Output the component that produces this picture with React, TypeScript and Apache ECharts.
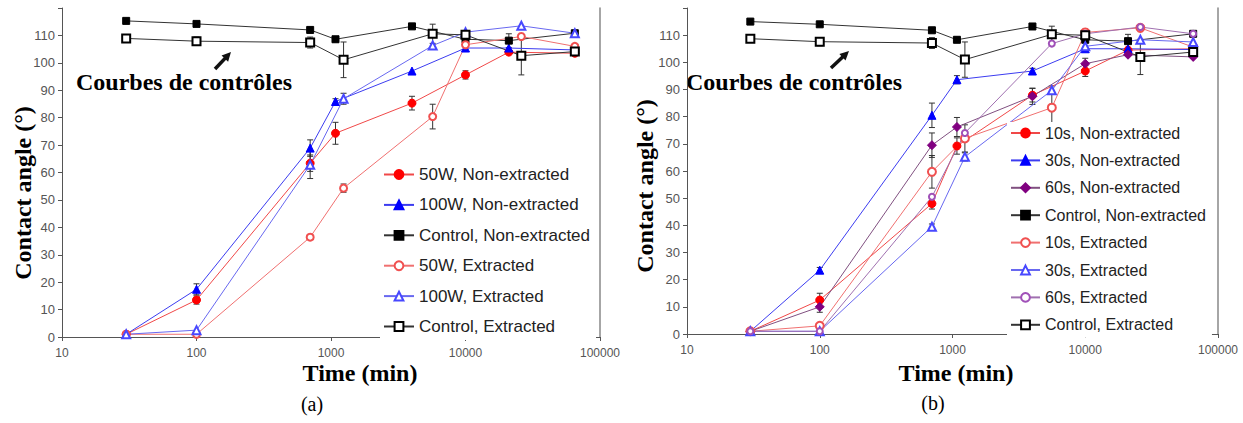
import React, { useEffect, useRef } from "react";
import * as echarts from "echarts";

// time points (min)
const timesNE = [30, 100, 700, 1080, 4000, 10000, 21000, 65000];
const timesEa = [30, 100, 700, 1240, 5700, 10000, 26000, 65000];
const timesEb = [30, 100, 700, 1240, 5600, 10000, 26000, 65000];

// panel (a)
const a50NE = [1, 13.5, 63.4, 74.3, 85.3, 95.6, 103.9, 103.5];
const a50NEerr = [0, 1.5, 3, 4, 2.5, 1.5, 0, 0];
const a100NE = [1, 17.4, 68.9, 85.9, 97, 105.4, 105.4, 104.7];
const a100NEerr = [0, 2, 3, 1, 0, 0, 0, 0];
const aCtrlNE = [115.3, 114.2, 112, 108.6, 113.3, 108.6, 108.1, 110.8];
const aCtrlNEerr = [0, 0, 0, 1, 0, 0, 2.5, 1];
const a50E = [1, 1, 36.4, 54.3, 80.4, 106.6, 109.6, 106];
const a50Eerr = [0, 0, 0, 1.5, 4.5, 0, 0, 0];
const a100E = [1, 2.5, 62.8, 86.9, 106.3, 111.2, 113.5, 110.8];
const a100Eerr = [0, 0, 5, 2, 0, 0, 0, 0];
const aCtrlE = [108.9, 107.9, 107.4, 101.1, 110.6, 110.2, 102.6, 104.1];
const aCtrlEerr = [1, 1.5, 2, 6.5, 3.5, 1, 7, 1];

// panel (b)
const b10NE = [1, 12.5, 48, 69.2, 87.9, 96.8, 104.5, 105];
const b10NEerr = [0, 2.5, 2, 3, 2.5, 2, 0, 0];
const b30NE = [1, 23.5, 80.5, 93.6, 96.8, 105, 105, 104.7];
const b30NEerr = [0, 1, 4.5, 1.5, 1, 0, 0, 0];
const b60NE = [1, 10, 69.5, 76.2, 87.5, 99.5, 102.8, 102];
const b60NEerr = [0, 2, 4.5, 3.5, 3, 2, 0, 0];
const bCtrlNE = [115, 114, 111.8, 108.3, 113.2, 108.3, 107.8, 110.5];
const bCtrlNEerr = [0, 0, 0, 1, 0, 0, 2.5, 1];
const b10E = [1, 3, 59.7, 72, 83.3, 111, 112.7, 105.6];
const b10Eerr = [0, 0, 6, 5, 8, 0, 0, 0];
const b30E = [1, 1, 39.5, 65.2, 89.7, 105.9, 108.3, 107.5];
const b30Eerr = [0, 0, 1, 1.5, 0, 0, 0, 0];
const b60E = [1, 1, 50.5, 74, 106.9, 110.5, 113, 110.5];
const b60Eerr = [0, 0, 0, 0, 0, 0, 0, 0];
const bCtrlE = [108.7, 107.6, 107.1, 101, 110.3, 110, 102, 103.8];
const bCtrlEerr = [1, 1.5, 2, 6.5, 3, 1, 6.5, 1];

const xTicks = [10, 100, 1000, 10000, 100000];
const yMax = 120;

const legendA = [
  "50W, Non-extracted",
  "100W, Non-extracted",
  "Control, Non-extracted",
  "50W, Extracted",
  "100W, Extracted",
  "Control, Extracted",
];
const legendB = [
  "10s, Non-extracted",
  "30s, Non-extracted",
  "60s, Non-extracted",
  "Control, Non-extracted",
  "10s, Extracted",
  "30s, Extracted",
  "60s, Extracted",
  "Control, Extracted",
];

const SANS = "'Liberation Sans', Arial, sans-serif";
const SERIF = "'Liberation Serif', 'Times New Roman', serif";

function lineSeries(
  name: string,
  xs: number[],
  ys: number[],
  symbol: string,
  color: string,
  lineColor: string,
  size: number,
  g: number
) {
  return {
    type: "line",
    name,
    xAxisIndex: g,
    yAxisIndex: g,
    data: xs.map((x, i) => [x, ys[i]]),
    symbol,
    symbolSize: size,
    showSymbol: true,
    itemStyle: { color, borderColor: color, borderWidth: 1 },
    lineStyle: { color: lineColor, width: 1 },
    z: 3,
  };
}

function errSeries(xs: number[], ys: number[], errs: number[], g: number) {
  const data: number[][] = [];
  xs.forEach((x, i) => {
    if (errs[i] > 0) data.push([x, ys[i] - errs[i], ys[i] + errs[i]]);
  });
  return {
    type: "custom",
    xAxisIndex: g,
    yAxisIndex: g,
    data,
    encode: { x: 0, y: [1, 2] },
    z: 2,
    silent: true,
    renderItem: (params: any, api: any) => {
      const x = api.value(0);
      const p1 = api.coord([x, api.value(1)]);
      const p2 = api.coord([x, api.value(2)]);
      const w = 3;
      const st = { stroke: "#333", lineWidth: 1 };
      return {
        type: "group",
        children: [
          { type: "line", shape: { x1: p1[0], y1: p1[1], x2: p2[0], y2: p2[1] }, style: st },
          { type: "line", shape: { x1: p1[0] - w, y1: p1[1], x2: p1[0] + w, y2: p1[1] }, style: st },
          { type: "line", shape: { x1: p2[0] - w, y1: p2[1], x2: p2[0] + w, y2: p2[1] }, style: st },
        ],
      };
    },
  };
}

function xAxisCfg(g: number) {
  return {
    type: "log",
    logBase: 10,
    gridIndex: g,
    min: xTicks[0],
    max: xTicks[xTicks.length - 1],
    axisLine: { show: true, lineStyle: { color: "#555", width: 1 } },
    axisTick: { show: true, length: 4, lineStyle: { color: "#555" } },
    axisLabel: {
      color: "#555",
      fontSize: 12,
      fontFamily: SANS,
      margin: 10,
      formatter: (v: number) => String(Math.round(v)),
    },
    splitLine: { show: false },
    minorTick: { show: false },
  };
}

function yAxisCfg(g: number) {
  return {
    type: "value",
    gridIndex: g,
    min: 0,
    max: yMax,
    interval: 10,
    axisLine: { show: true, lineStyle: { color: "#555", width: 1 } },
    axisTick: { show: true, length: 4, lineStyle: { color: "#555" } },
    axisLabel: {
      color: "#555",
      fontSize: 13,
      fontFamily: SANS,
      margin: 7,
      formatter: (v: number) => (v >= yMax ? "" : String(v)),
    },
    splitLine: { show: false },
  };
}

function rightAxisCfg(g: number) {
  return {
    type: "value",
    gridIndex: g,
    position: "right",
    min: 0,
    max: yMax,
    axisLine: { show: true, onZero: false, lineStyle: { color: "#888", width: 1.5 } },
    axisTick: { show: false },
    axisLabel: { show: false },
    splitLine: { show: false },
  };
}

function arrow(x0: number, y0: number, x1: number, y1: number) {
  const dx = x1 - x0;
  const dy = y1 - y0;
  const len = Math.sqrt(dx * dx + dy * dy);
  const ux = dx / len;
  const uy = dy / len;
  const hl = 9;
  const hw = 4.5;
  const bx = x1 - ux * hl;
  const by = y1 - uy * hl;
  return [
    {
      type: "line",
      shape: { x1: x0, y1: y0, x2: bx + ux * 1, y2: by + uy * 1 },
      style: { stroke: "#111", lineWidth: 3.5 },
    },
    {
      type: "polygon",
      shape: {
        points: [
          [x1, y1],
          [bx - uy * hw, by + ux * hw],
          [bx + uy * hw, by - ux * hw],
        ],
      },
      style: { fill: "#111" },
    },
  ];
}

function textEl(text: string, x: number, y: number, size: number, bold: boolean, align = "center", rotation = 0) {
  return {
    type: "text",
    x,
    y,
    rotation,
    style: {
      text,
      fontSize: size,
      fontWeight: bold ? "bold" : "normal",
      fontFamily: SERIF,
      fill: "#000",
      align,
      verticalAlign: "middle",
    },
  };
}

export default function App() {
  const ref = useRef<HTMLDivElement>(null);
  useEffect(() => {
    if (!ref.current) return;
    const chart = echarts.init(ref.current, undefined, { renderer: "svg" });
    const RED = "#ff0000";
    const REDL = "#f04848";
    const REDE = "#f05050";
    const REDEL = "#f07070";
    const BLUE = "#0000ff";
    const BLUEL = "#3c3cf0";
    const BLUEE = "#4848ff";
    const BLUEEL = "#6868f0";
    const PUR = "#800080";
    const PURL = "#805080";
    const PURE = "#a050b8";
    const PUREL = "#a070b0";
    const BLK = "#000";
    const BLKL = "#333";

    const series: any[] = [
      // panel a
      lineSeries(legendA[0], timesNE, a50NE, "circle", RED, REDL, 8, 0),
      lineSeries(legendA[1], timesNE, a100NE, "triangle", BLUE, BLUEL, 8, 0),
      lineSeries(legendA[2], timesNE, aCtrlNE, "rect", BLK, BLKL, 7, 0),
      lineSeries(legendA[3], timesEa, a50E, "emptyCircle", REDE, REDEL, 7, 0),
      lineSeries(legendA[4], timesEa, a100E, "emptyTriangle", BLUEE, BLUEEL, 8, 0),
      lineSeries(legendA[5], timesEa, aCtrlE, "emptyRect", BLK, BLKL, 8, 0),
      errSeries(timesNE, a50NE, a50NEerr, 0),
      errSeries(timesNE, a100NE, a100NEerr, 0),
      errSeries(timesNE, aCtrlNE, aCtrlNEerr, 0),
      errSeries(timesEa, a50E, a50Eerr, 0),
      errSeries(timesEa, a100E, a100Eerr, 0),
      errSeries(timesEa, aCtrlE, aCtrlEerr, 0),
      // panel b
      lineSeries(legendB[0], timesNE, b10NE, "circle", RED, REDL, 8, 1),
      lineSeries(legendB[1], timesNE, b30NE, "triangle", BLUE, BLUEL, 8, 1),
      lineSeries(legendB[2], timesNE, b60NE, "diamond", PUR, PURL, 9, 1),
      lineSeries(legendB[3], timesNE, bCtrlNE, "rect", BLK, BLKL, 7, 1),
      lineSeries(legendB[4], timesEb, b10E, "emptyCircle", REDE, REDEL, 8, 1),
      lineSeries(legendB[5], timesEb, b30E, "emptyTriangle", BLUEE, BLUEEL, 8, 1),
      lineSeries(legendB[6], timesEb, b60E, "emptyCircle", PURE, PUREL, 6, 1),
      lineSeries(legendB[7], timesEb, bCtrlE, "emptyRect", BLK, BLKL, 8, 1),
      errSeries(timesNE, b10NE, b10NEerr, 1),
      errSeries(timesNE, b30NE, b30NEerr, 1),
      errSeries(timesNE, b60NE, b60NEerr, 1),
      errSeries(timesNE, bCtrlNE, bCtrlNEerr, 1),
      errSeries(timesEb, b10E, b10Eerr, 1),
      errSeries(timesEb, b30E, b30Eerr, 1),
      errSeries(timesEb, b60E, b60Eerr, 1),
      errSeries(timesEb, bCtrlE, bCtrlEerr, 1),
    ];

    const legendCommon = {
      orient: "vertical",
      backgroundColor: "#fff",
      itemWidth: 30,
      itemHeight: 11,
      z: 10,
      selectedMode: false,
      inactiveColor: "#222",
    };

    chart.setOption({
      animation: false,
      backgroundColor: "#fff",
      grid: [
        { left: 62, right: 643, top: 8, bottom: 86, containLabel: false },
        { left: 687, right: 25, top: 8, bottom: 89, containLabel: false },
      ],
      xAxis: [xAxisCfg(0), xAxisCfg(1)],
      yAxis: [yAxisCfg(0), yAxisCfg(1), rightAxisCfg(0), rightAxisCfg(1)],
      legend: [
        {
          ...legendCommon,
          data: legendA,
          left: 380,
          top: 163,
          padding: [3, 6, 5, 3],
          itemGap: 13.4,
          textStyle: { fontSize: 17, lineHeight: 17, color: "#222", fontFamily: SANS },
        },
        {
          ...legendCommon,
          data: legendB,
          left: 1007,
          top: 122,
          itemWidth: 29,
          padding: [3, 6, 5, 3],
          itemGap: 11.4,
          textStyle: { fontSize: 16, lineHeight: 16, color: "#222", fontFamily: SANS },
        },
      ],
      series,
      graphic: [
        textEl("Courbes de contrôles", 76, 82, 24, true, "left"),
        textEl("Courbes de contrôles", 686, 82, 24, true, "left"),
        ...arrow(215, 69, 231, 52),
        ...arrow(831, 68, 849, 51),
        textEl("Contact angle (°)", 23, 193, 24, true, "center", Math.PI / 2),
        textEl("Contact angle (°)", 645, 186, 24, true, "center", Math.PI / 2),
        textEl("Time (min)", 360, 373, 24, true),
        textEl("Time (min)", 956, 373, 24, true),
        textEl("(a)", 312, 404, 20, false),
        textEl("(b)", 933, 403, 20, false),
      ],
    });
    return () => chart.dispose();
  }, []);
  return (
    <div
      ref={ref}
      style={{ position: "fixed", left: 0, top: 0, width: 1243, height: 423, background: "#fff" }}
    />
  );
}
